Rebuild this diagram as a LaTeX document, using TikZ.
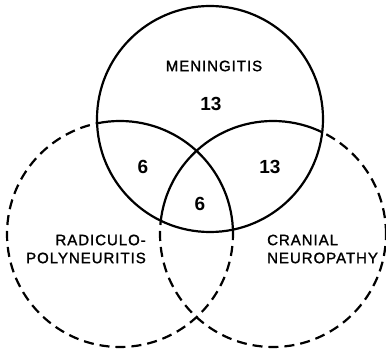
\documentclass[tikz,border=0pt]{standalone}
\usepackage{fontspec}
\setmainfont{Liberation Sans}
\newfontfamily\vennlabelfont[LetterSpace=6.5,FakeBold=1.5]{Liberation Sans}
\usepackage{tikz}
\definecolor{vnink}{RGB}{0,0,0}
\tikzset{
  solidset/.style={draw=vnink,line width=2.2pt},
  dashset/.style={draw=vnink,line width=2.2pt,dash pattern=on 10pt off 6pt},
  setname/.style={inner sep=0pt,font=\fontsize{15}{18}\selectfont\vennlabelfont},
  count/.style={inner sep=0pt,font=\fontsize{19}{19}\selectfont\bfseries},
}

\begin{document}
\begin{tikzpicture}[x=1pt,y=1pt]
  \useasboundingbox (0,0) rectangle (386,354);
  \coordinate (men) at (210,235);
  \coordinate (rad) at (120,120);
  \coordinate (cra) at (273,120);
  \def\vennr{113}

  % lower sets, dashed outside meningitis
  \draw[dashset] (rad) circle (\vennr);
  \draw[dashset] (cra) circle (\vennr);
  \fill[white] (men) circle (\vennr);
  \begin{scope}
    \clip (men) circle (\vennr);
    \draw[solidset] (rad) circle (\vennr);
    \draw[solidset] (cra) circle (\vennr);
  \end{scope}
  \draw[solidset] (men) circle (\vennr);

  \node[setname] (menlbl) at (214,288) {MENINGITIS};
  \node[setname,align=right,anchor=east] (radlbl) at (146,105) {RADICULO-\\POLYNEURITIS};
  \node[setname,align=left,anchor=west] (cralbl) at (267,105) {CRANIAL\\NEUROPATHY};

  \node[count] (nmen) at (211,250) {13};
  \node[count] (nmr) at (143,187) {6};
  \node[count] (nmc) at (270,187) {13};
  \node[count] (nall) at (200,150) {6};
\end{tikzpicture}
\end{document}
